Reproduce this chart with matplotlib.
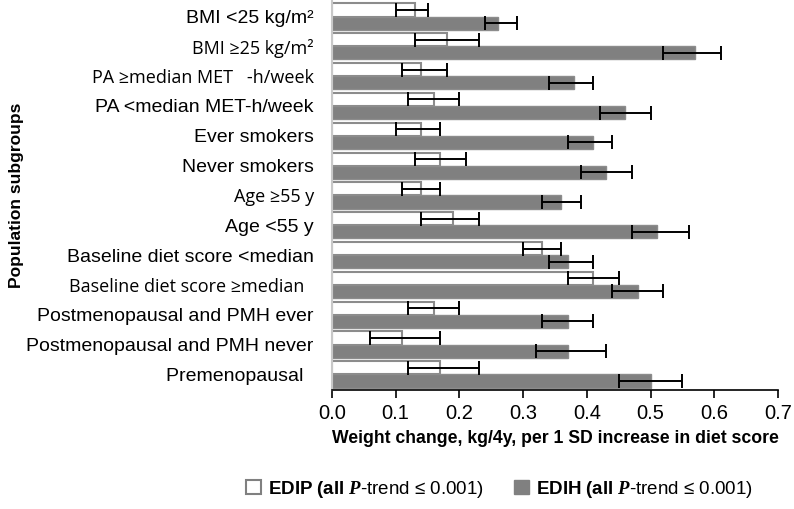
import numpy as np
import matplotlib.pyplot as plt
from matplotlib.patches import Patch

plt.rcParams['font.family'] = ['Liberation Sans', 'DejaVu Sans']
plt.rcParams['mathtext.fontset'] = 'custom'
plt.rcParams['mathtext.bf'] = 'Liberation Sans:bold'
plt.rcParams['mathtext.it'] = 'Liberation Serif:italic:bold'
plt.rcParams['mathtext.rm'] = 'Liberation Sans'

groups = ['BMI <25 kg/m²', 'BMI ≥25 kg/m²', 'PA ≥median MET   -h/week',
          'PA <median MET-h/week', 'Ever smokers', 'Never smokers',
          'Age ≥55 y', 'Age <55 y', 'Baseline diet score <median',
          'Baseline diet score ≥median  ', 'Postmenopausal and PMH ever',
          'Postmenopausal and PMH never', 'Premenopausal  ']

edip = [0.13, 0.18, 0.14, 0.16, 0.14, 0.17, 0.14, 0.19, 0.33, 0.41, 0.16, 0.11, 0.17]
edip_lo = [0.10, 0.13, 0.11, 0.12, 0.10, 0.13, 0.11, 0.14, 0.30, 0.37, 0.12, 0.06, 0.12]
edip_hi = [0.15, 0.23, 0.18, 0.20, 0.17, 0.21, 0.17, 0.23, 0.36, 0.45, 0.20, 0.17, 0.23]

edih = [0.26, 0.57, 0.38, 0.46, 0.41, 0.43, 0.36, 0.51, 0.37, 0.48, 0.37, 0.37, 0.50]
edih_lo = [0.24, 0.52, 0.34, 0.42, 0.37, 0.39, 0.33, 0.47, 0.34, 0.44, 0.33, 0.32, 0.45]
edih_hi = [0.29, 0.61, 0.41, 0.50, 0.44, 0.47, 0.39, 0.56, 0.41, 0.52, 0.41, 0.43, 0.55]

edip = np.array(edip)
edih = np.array(edih)
y = np.arange(len(groups))
h = 0.44

fig, ax = plt.subplots(figsize=(7.94, 5.09), dpi=100)
fig.subplots_adjust(left=0.418, right=0.98, top=0.998, bottom=0.234)

err_kw = dict(ecolor='black', elinewidth=1.4, capsize=5, capthick=1.4)
ax.barh(y - h / 2, edip, height=h, color='white', edgecolor='#8c8c8c', linewidth=1.5,
        xerr=[edip - np.array(edip_lo), np.array(edip_hi) - edip], error_kw=err_kw)
ax.barh(y + h / 2, edih, height=h, color='#808080', edgecolor='#8c8c8c', linewidth=1,
        xerr=[edih - np.array(edih_lo), np.array(edih_hi) - edih], error_kw=err_kw)

ax.set_ylim(len(groups) - 0.5 + 0.02, -0.5 - 0.02)
ax.set_xlim(0, 0.7)
ax.set_xticks(np.arange(0, 0.71, 0.1))
ax.set_xticklabels(['%.1f' % v for v in np.arange(0, 0.71, 0.1)], fontsize=14.5)
ax.set_yticks(y)
ax.set_yticklabels(groups, fontsize=14)
for lab in ax.get_yticklabels():
    if '≥' in lab.get_text():
        lab.set_fontfamily('Open Sans')
        lab.set_fontsize(13)
ax.tick_params(axis='y', length=0, pad=13)
ax.tick_params(axis='x', direction='out', length=6, width=1.2, pad=4)

for s in ['top', 'right']:
    ax.spines[s].set_visible(False)
ax.spines['left'].set_color('#c8c8c8')
ax.spines['left'].set_linewidth(1.5)
ax.spines['bottom'].set_color('black')
ax.spines['bottom'].set_linewidth(1.2)

ax.set_xlabel('Weight change, kg/4y, per 1 SD increase in diet score',
              fontsize=12.7, fontweight='bold', labelpad=5)
ax.set_ylabel('Population subgroups', fontsize=12.5, fontweight='bold')
ax.yaxis.set_label_coords(-0.69, 0.5)

handles = [Patch(facecolor='white', edgecolor='#808080', linewidth=1.5),
           Patch(facecolor='#808080', edgecolor='#808080')]
labels = [r'$\mathbf{EDIP\ (all\ }\mathit{P}\mathbf{\text{-}}$trend ≤ 0.001)',
          r'$\mathbf{EDIH\ (all\ }\mathit{P}\mathbf{\text{-}}$trend ≤ 0.001)']
fig.legend(handles, labels, loc='center', bbox_to_anchor=(0.629, 0.039), ncol=2,
           frameon=False, fontsize=13.5,
           handlelength=0.8, handleheight=0.8, handletextpad=0.4, columnspacing=1.6)

fig.savefig('out.png', dpi=100)
